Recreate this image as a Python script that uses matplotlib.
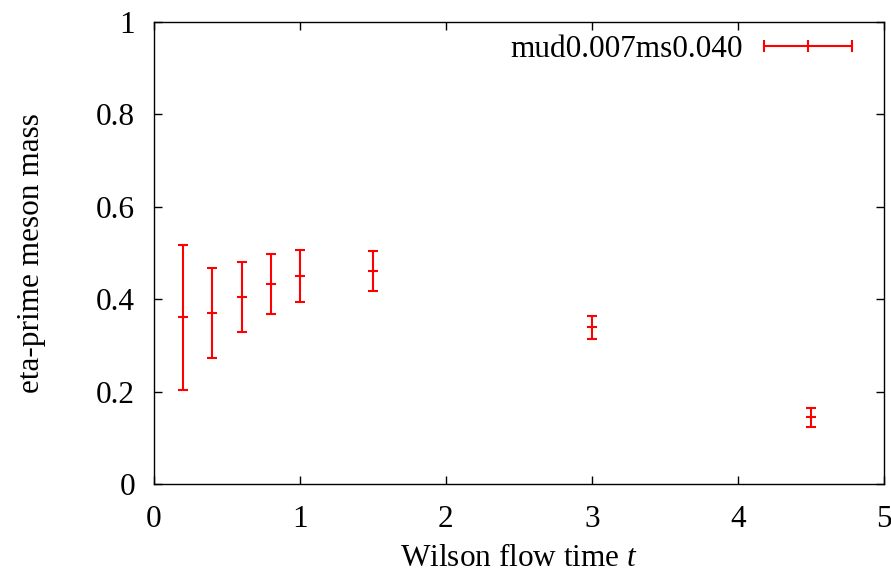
import matplotlib
matplotlib.use("Agg")
import matplotlib.pyplot as plt
from matplotlib.lines import Line2D

# Wilson flow time and eta-prime mass with errors
flow_time = [0.2, 0.4, 0.6, 0.8, 1.0, 1.5, 3.0, 4.5]
mass = [0.361, 0.370, 0.404, 0.433, 0.450, 0.461, 0.339, 0.144]
mass_err = [0.157, 0.097, 0.076, 0.065, 0.056, 0.044, 0.025, 0.021]
series_label = "mud0.007ms0.040"

plt.rcParams['font.family'] = ['Liberation Serif', 'DejaVu Serif']
plt.rcParams['mathtext.fontset'] = 'custom'
plt.rcParams['mathtext.it'] = 'Liberation Serif:italic'
plt.rcParams['mathtext.rm'] = 'Liberation Serif'

fs = 22.5

fig = plt.figure(figsize=(8.91, 5.75), dpi=100)
ax = fig.add_axes([0.1728, 0.1583, 0.8192, 0.8034])

ax.errorbar(flow_time, mass, yerr=mass_err, fmt='_', color='red',
            markersize=7, markeredgewidth=1.5, elinewidth=1.5,
            capsize=3.3, capthick=1.5)

ax.set_xlim(0, 5)
ax.set_ylim(0, 1)
ax.set_xticks([0, 1, 2, 3, 4, 5])
ax.set_yticks([0, 0.2, 0.4, 0.6, 0.8, 1])
ax.set_yticklabels(['0', '0.2', '0.4', '0.6', '0.8', '1'])
ax.tick_params(direction='in', length=6, width=1, top=True, right=True,
               labelsize=fs)
ax.tick_params(axis='x', pad=15)
ax.tick_params(axis='y', pad=13.5)
for s in ax.spines.values():
    s.set_linewidth(1)

ax.set_xlabel("Wilson flow time $t$", fontsize=fs, labelpad=7)
ax.set_ylabel("eta-prime meson mass", fontsize=fs, labelpad=36)

# gnuplot-style key: horizontal bar with end caps and a centre tick
handle = Line2D([], [], color='red', lw=1.5, marker='|', markersize=8,
                markeredgewidth=1.5)
ax.legend([handle], [series_label], loc='upper right',
          bbox_to_anchor=(0.969, 0.972), frameon=False, borderaxespad=0,
          borderpad=0, numpoints=3, markerfirst=False, fontsize=fs,
          handlelength=3.4, handletextpad=0.4)

fig.savefig("out.png", dpi=100)
